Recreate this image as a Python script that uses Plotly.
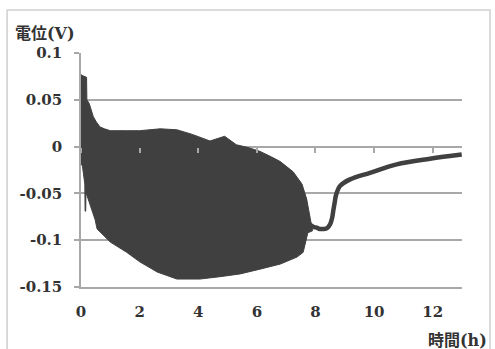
import plotly.graph_objects as go

# Upper envelope of the dense oscillation (hours, volts)
upper_t = [0.00, 0.04, 0.19, 0.20, 0.28, 0.35, 0.42, 0.53, 0.65, 0.80, 1.00, 1.56, 2.00,
           2.70, 3.27, 3.80, 4.40, 4.90, 5.30, 5.70, 6.10, 6.50, 6.80, 7.24, 7.54, 7.70, 7.80]
upper_v = [0.077, 0.076, 0.074, 0.050, 0.046, 0.040, 0.032, 0.026, 0.021, 0.019, 0.017, 0.017, 0.017,
           0.019, 0.018, 0.013, 0.006, 0.011, 0.002, -0.001, -0.005, -0.011, -0.016, -0.027, -0.040, -0.056, -0.075]

# Lower envelope of the dense oscillation
lower_t = [0.00, 0.05, 0.13, 0.14, 0.16, 0.17, 0.30, 0.48, 0.55, 1.00, 1.56, 2.00, 2.60, 3.27,
           4.06, 4.74, 5.43, 6.10, 6.80, 7.37, 7.58, 7.68, 7.74, 7.90]
lower_v = [-0.018, -0.021, -0.040, -0.069, -0.069, -0.049, -0.060, -0.078, -0.088, -0.102, -0.113, -0.123, -0.134, -0.1415,
           -0.1415, -0.139, -0.136, -0.131, -0.1255, -0.118, -0.113, -0.100, -0.092, -0.090]

# Recovery curve after the oscillation
rec_t = [7.80, 7.95, 8.04, 8.15, 8.27, 8.40, 8.50, 8.57, 8.61, 8.66, 8.70, 8.84, 9.18, 9.86,
         10.77, 11.91, 12.99]
rec_v = [-0.083, -0.086, -0.0865, -0.088, -0.088, -0.087, -0.083, -0.076, -0.068, -0.059, -0.052, -0.042, -0.035, -0.028,
         -0.019, -0.013, -0.0085]

x_ticks = [0, 2, 4, 6, 8, 10, 12]
y_ticks = [0.1, 0.05, 0, -0.05, -0.1, -0.15]
y_ticktext = ["0.1", "0.05", "0", "-0.05", "-0.1", "-0.15"]

DARK = "#404040"
GRID = "#a8a8a8"
TXT = "#333333"
SERIF = "DejaVu Serif, Noto Sans CJK JP"

poly_t = upper_t + lower_t[::-1]
poly_v = upper_v + lower_v[::-1]

fig = go.Figure()
fig.add_trace(go.Scatter(x=poly_t, y=poly_v, mode="lines", fill="toself",
                         fillcolor=DARK, line=dict(color=DARK, width=1),
                         hoverinfo="skip", showlegend=False))
fig.add_trace(go.Scatter(x=rec_t, y=rec_v, mode="lines",
                         line=dict(color=DARK, width=4.5, shape="spline"),
                         showlegend=False))
# dummy trace to activate the secondary x axis (crossing at y=0)
fig.add_trace(go.Scatter(x=[rec_t[-1]], y=[rec_v[-1]], xaxis="x2", mode="markers",
                         marker=dict(opacity=0), hoverinfo="skip", showlegend=False))

tickfont = dict(family=SERIF, size=15, color=TXT, weight="bold")

fig.update_layout(
    width=495, height=349,
    margin=dict(l=81, r=33, t=53, b=62),
    paper_bgcolor="white", plot_bgcolor="white",
    font=dict(family=SERIF, size=16, color=TXT),
    xaxis=dict(range=[0, 13], tickvals=x_ticks, showgrid=False, zeroline=False,
               showline=True, linecolor=GRID, linewidth=1.5, ticks="",
               ticklabelstandoff=10, tickfont=tickfont),
    xaxis2=dict(range=[0, 13], overlaying="x", anchor="free", position=0.6, side="bottom",
                tickvals=x_ticks, showticklabels=False, showgrid=False, zeroline=False,
                showline=False, ticks="outside", ticklen=5, tickcolor=GRID, tickwidth=1.5),
    yaxis=dict(range=[-0.15, 0.1], tickvals=y_ticks, ticktext=y_ticktext,
               showgrid=True, gridcolor=GRID, gridwidth=1.5, zeroline=False,
               showline=True, linecolor=GRID, linewidth=1.5,
               ticks="outside", ticklen=5, tickcolor=GRID, tickwidth=1.5,
               ticklabelstandoff=9, tickfont=tickfont),
    annotations=[
        dict(text="<b>電位(V)</b>", xref="paper", yref="paper", x=-0.178, y=1.085,
             xanchor="left", yanchor="middle", showarrow=False,
             font=dict(family=SERIF, size=16, color=TXT)),
        dict(text="<b>時間(h)</b>", xref="paper", yref="paper", x=1.07, y=-0.228,
             xanchor="right", yanchor="middle", showarrow=False,
             font=dict(family=SERIF, size=16, color=TXT)),
    ],
    shapes=[
        dict(type="rect", xref="paper", yref="paper", x0=-0.194, x1=1.0735, y0=-0.35, y1=1.184,
             line=dict(color="#cfcfcf", width=1.5), layer="below"),
    ],
)

fig.write_html("out.html", config={"displayModeBar": False},
               post_script="document.body.style.margin='0px';")
